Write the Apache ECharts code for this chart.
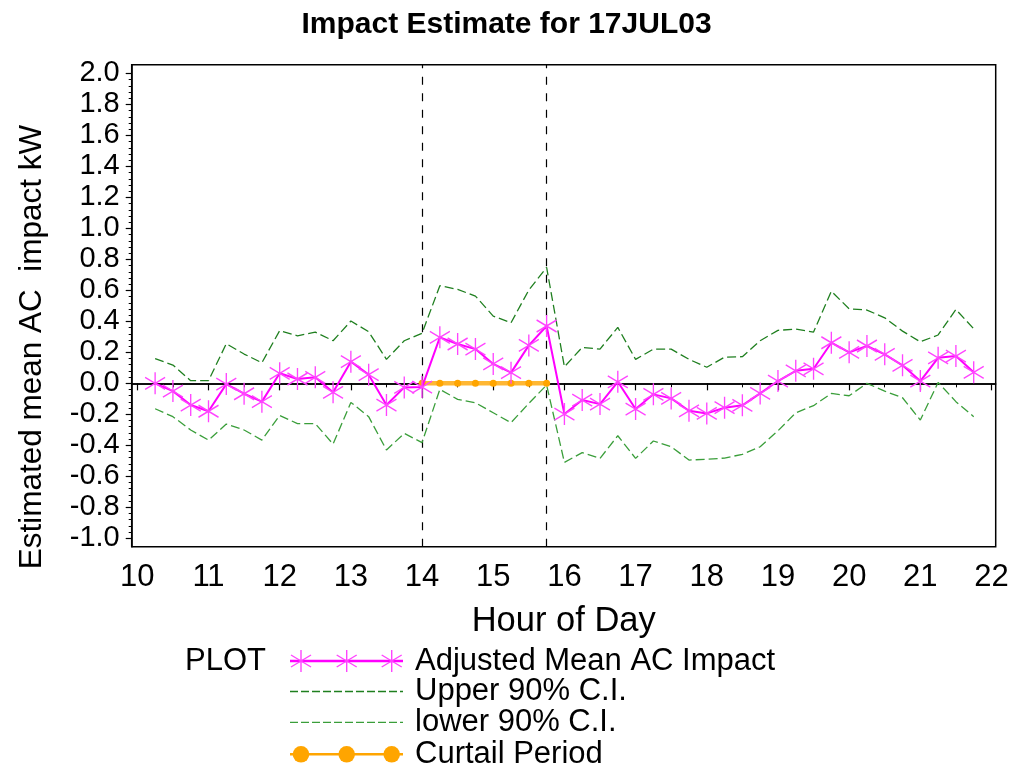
<!DOCTYPE html>
<html>
<head>
<meta charset="utf-8">
<title>Impact Estimate for 17JUL03</title>
<script src="https://cdn.jsdelivr.net/npm/echarts@6/dist/echarts.min.js"></script>
<style>
  html, body { margin: 0; padding: 0; background: #fff; }
  #chart { width: 1013px; height: 773px; }
</style>
</head>
<body>
<div id="chart"></div>
<script>
// Quarter-hour estimates of the AC load impact, 10:15 to 21:45
const HOURS = [
  10.25, 10.5, 10.75, 11.0, 11.25, 11.5, 11.75, 12.0, 12.25, 12.5, 12.75, 13.0,
  13.25, 13.5, 13.75, 14.0, 14.25, 14.5, 14.75, 15.0, 15.25, 15.5, 15.75, 16.0,
  16.25, 16.5, 16.75, 17.0, 17.25, 17.5, 17.75, 18.0, 18.25, 18.5, 18.75, 19.0,
  19.25, 19.5, 19.75, 20.0, 20.25, 20.5, 20.75, 21.0, 21.25, 21.5, 21.75
];
const MEAN_IMPACT = [
  0.00, -0.05, -0.14, -0.18, -0.005, -0.067, -0.118, 0.065, 0.028, 0.039, -0.058, 0.14,
  0.056, -0.14, -0.026, -0.024, 0.297, 0.254, 0.221, 0.125, 0.069, 0.245, 0.37, -0.198,
  -0.108, -0.134, 0.01, -0.166, -0.071, -0.097, -0.177, -0.194, -0.157, -0.142, -0.065, 0.015,
  0.081, 0.094, 0.262, 0.20, 0.241, 0.187, 0.116, 0.015, 0.165, 0.176, 0.071
];
const UPPER_CI = [
  0.159, 0.118, 0.017, 0.017, 0.256, 0.189, 0.133, 0.34, 0.307, 0.331, 0.275, 0.402,
  0.333, 0.155, 0.275, 0.323, 0.63, 0.606, 0.563, 0.434, 0.391, 0.602, 0.748, 0.107,
  0.232, 0.221, 0.361, 0.155, 0.221, 0.221, 0.155, 0.104, 0.169, 0.172, 0.275, 0.342,
  0.35, 0.331, 0.594, 0.481, 0.473, 0.423, 0.337, 0.268, 0.312, 0.477, 0.352
];
const LOWER_CI = [
  -0.164, -0.215, -0.301, -0.366, -0.263, -0.301, -0.366, -0.207, -0.26, -0.26, -0.392, -0.123,
  -0.215, -0.43, -0.323, -0.382, -0.039, -0.103, -0.125, -0.19, -0.254, -0.129, -0.011, -0.51,
  -0.447, -0.484, -0.338, -0.484, -0.372, -0.409, -0.495, -0.49, -0.482, -0.458, -0.409, -0.306,
  -0.19, -0.144, -0.065, -0.08, 0.0, -0.05, -0.093, -0.237, 0.006, -0.118, -0.215
];
// Curtailment window
const CURTAIL_HOURS = [14.0, 14.25, 14.5, 14.75, 15.0, 15.25, 15.5, 15.75];
const CURTAIL_VALUES = [0, 0, 0, 0, 0, 0, 0, 0];

// Axis ticks
const X_TICKS = [10, 11, 12, 13, 14, 15, 16, 17, 18, 19, 20, 21, 22];
const Y_TICKS = [-1.0, -0.8, -0.6, -0.4, -0.2, 0.0, 0.2, 0.4, 0.6, 0.8, 1.0,
                 1.2, 1.4, 1.6, 1.8, 2.0];
const X_MIN = 9.921, X_MAX = 22.059;
const Y_MIN = -1.054, Y_MAX = 2.056;

const TITLE = 'Impact Estimate for 17JUL03';
const X_NAME = 'Hour of Day';
const Y_NAME = 'Estimated mean AC  impact kW';
const LEGEND_HEAD = 'PLOT';
const SERIES_NAMES = ['Adjusted Mean AC Impact', 'Upper 90% C.I.', 'lower 90% C.I.', 'Curtail Period'];

const FONT = '"Liberation Sans", Arial, sans-serif';
const MAGENTA = '#ff00ff';
const STAR_PINK = '#ff44ff';
const GREEN_UP = '#1f7f1f';
const GREEN_LO = '#3a9e3a';
const ORANGE = '#ffa500';

// Minor tick positions (half hours; 0.04 kW steps)
const xMinor = [];
for (let i = 0; i < X_TICKS.length - 1; i++) xMinor.push(X_TICKS[i] + 0.5);
const yMinor = [];
for (let i = 0; i < Y_TICKS.length - 1; i++) {
  for (let k = 1; k < 5; k++) yMinor.push(+(Y_TICKS[i] + k * 0.04).toFixed(2));
}

const zip = (xs, ys) => xs.map((x, i) => [x, ys[i]]);

// Six-armed asterisk marker
const STAR_PATH = 'path://M10,0 L10,22 M0,5 L20,17 M0,17 L20,5';

const chart = echarts.init(document.getElementById('chart'), null, { renderer: 'canvas' });

function starGroup(cx, cy) {
  const w = 10, h = 11, dy = 6;
  const ls = { stroke: STAR_PINK, lineWidth: 1.4 };
  return [
    { type: 'line', shape: { x1: cx, y1: cy - h, x2: cx, y2: cy + h }, style: ls },
    { type: 'line', shape: { x1: cx - w, y1: cy - dy, x2: cx + w, y2: cy + dy }, style: ls },
    { type: 'line', shape: { x1: cx - w, y1: cy + dy, x2: cx + w, y2: cy - dy }, style: ls }
  ];
}

const legendX0 = 290, legendX1 = 403, legendMarks = [301, 346.7, 391.7];
const rows = [661, 691.5, 722.3, 754.3];
const legendText = { fontFamily: FONT, fontSize: 31, fill: '#000', verticalAlign: 'middle' };

const graphics = [
  { type: 'text', left: 'center', top: 10, style: { text: TITLE, fontFamily: FONT, fontSize: 30, fontWeight: 'bold', fill: '#000' } },
  { type: 'text', x: 32, y: 347, rotation: Math.PI / 2, style: { text: Y_NAME, fontFamily: FONT, fontSize: 31.5, fill: '#000', align: 'center', verticalAlign: 'middle' } },
  { type: 'text', x: 563.7, y: 621, style: { text: X_NAME, fontFamily: FONT, fontSize: 34.5, fill: '#000', align: 'center', verticalAlign: 'middle' } },
  { type: 'text', x: 185, y: rows[0], style: Object.assign({ text: LEGEND_HEAD }, legendText) },
  // row 1: mean impact
  { type: 'line', shape: { x1: legendX0, y1: rows[0], x2: legendX1, y2: rows[0] }, style: { stroke: MAGENTA, lineWidth: 2.5 } },
  ...legendMarks.flatMap(x => starGroup(x, rows[0])),
  { type: 'text', x: 415, y: rows[0], style: Object.assign({ text: SERIES_NAMES[0] }, legendText) },
  // row 2: upper CI
  { type: 'line', shape: { x1: legendX0, y1: rows[1], x2: legendX1, y2: rows[1] }, style: { stroke: GREEN_UP, lineWidth: 1.3, lineDash: [8, 3] } },
  { type: 'text', x: 415, y: rows[1], style: Object.assign({ text: SERIES_NAMES[1] }, legendText) },
  // row 3: lower CI
  { type: 'line', shape: { x1: legendX0, y1: rows[2], x2: legendX1, y2: rows[2] }, style: { stroke: GREEN_LO, lineWidth: 1.3, lineDash: [8, 3] } },
  { type: 'text', x: 415, y: rows[2], style: Object.assign({ text: SERIES_NAMES[2] }, legendText) },
  // row 4: curtail period
  { type: 'line', shape: { x1: legendX0, y1: rows[3], x2: legendX1, y2: rows[3] }, style: { stroke: ORANGE, lineWidth: 2.5 } },
  ...legendMarks.map(x => ({ type: 'circle', shape: { cx: x, cy: rows[3], r: 8.3 }, style: { fill: ORANGE } })),
  { type: 'text', x: 415, y: rows[3], style: Object.assign({ text: SERIES_NAMES[3] }, legendText) }
];

const option = {
  backgroundColor: '#fff',
  animation: false,
  grid: {
    left: 131.7, top: 64.7, right: 17.3, bottom: 226.3,
    show: true, borderColor: '#000', borderWidth: 1.5, backgroundColor: 'transparent'
  },
  xAxis: [
    {
      type: 'value', min: X_MIN, max: X_MAX, position: 'bottom',
      axisLine: { show: true, lineStyle: { color: '#000', width: 1.5 } },
      axisTick: { show: true, length: 7, customValues: X_TICKS, lineStyle: { color: '#000', width: 1.2 } },
      axisLabel: { customValues: X_TICKS, fontFamily: FONT, fontSize: 31, color: '#000', margin: 15 },
      splitLine: { show: false }
    },
    {
      type: 'value', min: X_MIN, max: X_MAX, position: 'bottom',
      axisLine: { show: false },
      axisTick: { show: true, length: 4, customValues: xMinor, lineStyle: { color: '#000', width: 1 } },
      axisLabel: { show: false },
      splitLine: { show: false }
    }
  ],
  yAxis: [
    {
      type: 'value', min: Y_MIN, max: Y_MAX, position: 'left',
      axisLine: { show: true, lineStyle: { color: '#000', width: 1.5 } },
      axisTick: { show: true, length: 6, customValues: Y_TICKS, lineStyle: { color: '#000', width: 1.2 } },
      axisLabel: {
        customValues: Y_TICKS, fontFamily: FONT, fontSize: 29, color: '#000', margin: 12,
        formatter: v => (Math.abs(v) < 1e-9 ? 0 : v).toFixed(1)
      },
      splitLine: { show: false }
    },
    {
      type: 'value', min: Y_MIN, max: Y_MAX, position: 'left',
      axisLine: { show: false },
      axisTick: { show: true, length: 3, customValues: yMinor, lineStyle: { color: '#000', width: 1 } },
      axisLabel: { show: false },
      splitLine: { show: false }
    }
  ],
  graphic: graphics,
  series: [
    {
      name: SERIES_NAMES[1], type: 'line', xAxisIndex: 0, yAxisIndex: 0,
      data: zip(HOURS, UPPER_CI), symbol: 'none', silent: true, z: 2,
      lineStyle: { color: GREEN_UP, width: 1.3, type: [9, 4] },
      // curtailment bounds and the zero reference, kept beneath the data lines
      markLine: {
        silent: true, symbol: 'none', label: { show: false }, z: 1,
        data: [
          { xAxis: CURTAIL_HOURS[0], lineStyle: { color: '#000', width: 1.2, type: [8, 8.5] } },
          { xAxis: CURTAIL_HOURS[CURTAIL_HOURS.length - 1], lineStyle: { color: '#000', width: 1.2, type: [8, 8.5] } },
          { yAxis: 0, lineStyle: { color: '#000', width: 1.5, type: 'solid' } }
        ]
      }
    },
    {
      name: SERIES_NAMES[2], type: 'line', xAxisIndex: 0, yAxisIndex: 0,
      data: zip(HOURS, LOWER_CI), symbol: 'none', silent: true, z: 2,
      lineStyle: { color: GREEN_LO, width: 1.3, type: [9, 4] }
    },
    {
      name: SERIES_NAMES[3], type: 'line', xAxisIndex: 0, yAxisIndex: 0,
      data: zip(CURTAIL_HOURS, CURTAIL_VALUES), z: 3,
      symbol: 'circle', symbolSize: 7, showSymbol: true,
      lineStyle: { color: '#ffb733', width: 4.5 },
      itemStyle: { color: ORANGE }
    },
    {
      name: SERIES_NAMES[0], type: 'line', xAxisIndex: 0, yAxisIndex: 0,
      data: zip(HOURS, MEAN_IMPACT), z: 4,
      symbol: STAR_PATH, symbolSize: [20, 22], symbolKeepAspect: false, showSymbol: true,
      lineStyle: { color: MAGENTA, width: 2 },
      itemStyle: { color: 'rgba(0,0,0,0)', borderColor: STAR_PINK, borderWidth: 1.4 }
    }
  ]
};

chart.setOption(option);
</script>
</body>
</html>
